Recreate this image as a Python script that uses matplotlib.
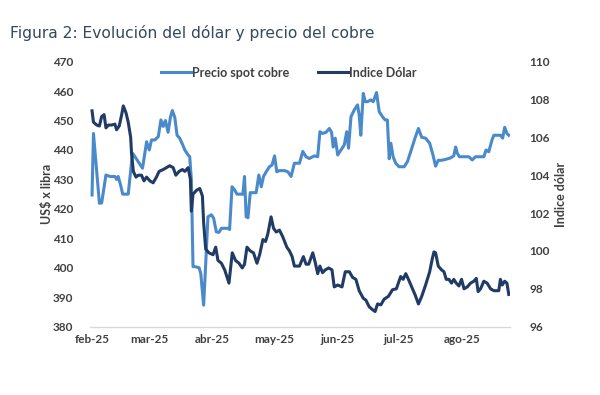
import numpy as np
import pandas as pd
import matplotlib
matplotlib.use("Agg")
import matplotlib.pyplot as plt

# ---------------- data (days since 2025-02-01, values) ----------------
copper_day = [0, 0.7, 3.6, 4.7, 6.8, 8.8, 11.2, 12.0, 12.8, 14.0, 15.0, 16.1, 17.7, 19.8,
              21.0, 23.1, 24.7, 26.7, 28.0, 29.1, 30.7, 32.4, 33.7, 34.8, 35.9, 37.2,
              38.4, 39.3, 40.5, 41.6, 42.9, 44.2, 45.4, 47.0, 47.8, 48.6, 49.4, 50.2,
              52.4, 53.2, 54.6, 55.9, 56.7, 58.4, 59.5, 60.8, 62.1, 63.3, 66.5, 67.3,
              68.5, 69.8, 70.9, 72.2, 73.8, 74.6, 75.4, 76.3, 77.4, 78.7, 80.3, 81.6,
              82.8, 83.9, 85.2, 86.8, 88.1, 89.3, 90.4, 91.7, 94.1, 95.8, 97.4, 99.0,
              100.7, 101.5, 103.1, 104.7, 106.3, 108.8, 110.4, 111.5, 112.8, 114.5,
              116.1, 117.2, 118.0, 119.0, 120.2, 121.8, 123.4, 124.6, 125.5, 126.7,
              128.3, 129.9, 130.7, 131.5, 132.7, 133.7, 134.8, 136.4, 137.6, 139.2,
              140.5, 142.1, 143.4, 144.5, 145.4, 146.2, 147.3, 148.6, 150.2, 152.7,
              154.3, 155.9, 158.0, 159.7, 161.3, 163.2, 165.2, 166.8, 168.1, 169.4,
              171.0, 173.0, 175.4, 177.0, 177.9, 178.7, 179.8, 182.0, 184.4, 186.0,
              187.6, 190.1, 191.7, 192.8, 194.1, 195.7, 196.6, 198.2, 199.8, 200.9,
              201.9, 203.0, 203.9]
copper_val = [424.7, 445.6, 421.9, 422.0, 431.5, 431.0, 431.0, 430.0, 431.0, 428.0, 425.0,
              425.0, 425.0, 438.9, 437.7, 435.5, 433.8, 442.8, 440.0, 443.4, 443.4, 444.5,
              450.2, 448.0, 450.0, 446.0, 451.3, 453.4, 451.0, 445.0, 444.0, 442.0, 440.0,
              438.3, 437.7, 429.8, 400.4, 400.4, 400.0, 398.0, 387.3, 405.4, 417.3, 418.0,
              416.8, 412.2, 412.0, 413.4, 413.4, 413.0, 427.5, 426.4, 425.0, 425.0, 425.0,
              431.0, 417.3, 417.0, 425.5, 425.5, 425.5, 431.5, 427.5, 431.0, 432.6, 434.3,
              434.9, 438.0, 432.6, 433.0, 433.0, 432.6, 431.0, 435.5, 435.5, 435.5, 439.5,
              437.7, 437.1, 438.0, 437.7, 446.2, 445.6, 446.0, 447.3, 446.0, 441.0, 444.0,
              438.3, 440.0, 441.7, 446.2, 440.6, 451.3, 453.6, 455.3, 451.9, 445.0, 459.2,
              456.4, 456.4, 457.0, 456.4, 459.5, 453.0, 451.3, 450.2, 450.2, 437.0, 442.3,
              437.7, 435.5, 434.3, 434.3, 436.0, 439.4, 444.0, 447.3, 444.3, 444.0, 442.3,
              438.3, 434.5, 436.5, 436.5, 436.8, 437.3, 438.0, 441.0, 438.9, 437.7, 437.7,
              437.7, 436.6, 437.7, 437.7, 437.7, 440.0, 439.4, 443.4, 445.0, 445.0, 445.0,
              444.0, 447.7, 445.6, 445.0]

dollar_day = [0, 0.7, 2.3, 3.6, 4.7, 5.9, 6.8, 8.0, 9.6, 11.2, 12.0, 13.3, 14.5, 15.3,
              16.6, 17.7, 18.9, 19.3, 20.2, 21.5, 22.6, 24.2, 25.4, 26.7, 28.3, 29.9,
              31.5, 32.8, 34.8, 36.4, 38.0, 39.7, 41.0, 42.6, 44.2, 45.4, 47.0, 48.1,
              48.6, 49.4, 51.1, 52.7, 54.0, 54.6, 55.6, 57.2, 59.2, 60.5, 61.6, 63.3,
              64.9, 67.0, 68.6, 70.2, 71.9, 73.5, 74.6, 75.8, 77.4, 79.0, 80.7, 82.0,
              83.6, 84.9, 86.0, 87.6, 88.8, 90.1, 91.7, 93.3, 95.3, 96.6, 97.9, 99.0,
              101.5, 103.4, 104.7, 106.0, 108.0, 109.3, 110.4, 111.5, 112.8, 114.1,
              115.8, 117.4, 118.5, 120.2, 122.3, 123.9, 125.9, 127.5, 129.1, 130.7,
              132.7, 134.0, 135.6, 137.2, 138.5, 139.7, 141.3, 142.9, 145.0, 147.0,
              148.9, 150.2, 151.0, 152.2, 153.5, 154.8, 156.4, 158.0, 159.7, 161.3,
              163.2, 165.2, 166.5, 167.3, 168.1, 169.4, 171.0, 172.2, 173.3, 174.6,
              175.9, 177.0, 178.2, 179.5, 180.8, 182.0, 183.6, 185.2, 186.8, 188.0,
              188.9, 190.1, 191.7, 193.3, 195.0, 196.6, 199.0, 199.8, 200.7, 201.9,
              203.0, 203.9]
dollar_val = [107.4, 106.8, 106.65, 106.6, 107.1, 107.2, 106.5, 106.65, 106.65, 106.7,
              106.4, 106.6, 107.2, 107.66, 107.3, 106.8, 106.0, 105.2, 104.2, 103.9,
              104.0, 104.0, 103.7, 103.9, 103.7, 103.6, 103.9, 104.2, 104.3, 104.4,
              104.5, 104.4, 104.0, 104.2, 104.3, 104.2, 104.4, 103.8, 102.1, 103.0,
              103.2, 103.3, 102.9, 101.5, 100.1, 99.9, 99.8, 100.2, 99.5, 99.35, 99.0,
              98.3, 99.9, 99.5, 99.35, 99.1, 99.3, 100.2, 100.0, 99.9, 99.35, 99.8,
              100.6, 100.5, 100.9, 101.8, 101.2, 101.0, 101.1, 100.75, 100.2, 100.0,
              99.7, 99.2, 99.2, 99.7, 99.3, 99.3, 99.9, 99.35, 98.8, 99.2, 98.85, 99.0,
              99.1, 99.0, 98.1, 98.2, 98.1, 98.9, 98.9, 98.6, 98.5, 97.9, 97.5, 97.4,
              97.05, 96.9, 96.8, 97.2, 97.15, 97.45, 97.6, 97.95, 98.0, 98.4, 98.65,
              98.5, 98.8, 98.5, 98.1, 97.7, 97.2, 97.6, 98.2, 98.9, 99.6, 99.95, 99.9,
              99.2, 99.0, 98.9, 98.5, 98.5, 98.3, 98.5, 98.3, 98.15, 98.5, 98.0, 98.1,
              98.3, 98.4, 98.55, 97.85, 98.0, 98.4, 98.3, 98.0, 97.9, 97.9, 98.5, 98.2,
              98.4, 98.3, 97.7]

month_ticks = ["2025-02-01", "2025-03-01", "2025-04-01", "2025-05-01",
               "2025-06-01", "2025-07-01", "2025-08-01"]
month_labels = ["feb-25", "mar-25", "abr-25", "may-25", "jun-25", "jul-25", "ago-25"]

title = "Figura 2: Evolución del dólar y precio del cobre"
left_label = "US$ x libra"
right_label = "Indice dólar"
copper_name = "Precio spot cobre"
dollar_name = "Indice Dólar"

# ---------------- plotting ----------------
base = pd.Timestamp("2025-02-01")
cx = base + pd.to_timedelta(np.array(copper_day), unit="D")
dx = base + pd.to_timedelta(np.array(dollar_day), unit="D")

LIGHT = "#4A8ACB"
DARK = "#1F3B66"
TICK = "#404040"

fig = plt.figure(figsize=(6.0, 3.95), dpi=100)
ax = fig.add_axes([0.15, 0.173, 0.70, 0.671])
ax2 = ax.twinx()

l1, = ax.plot(cx, copper_val, color=LIGHT, lw=2.2, label=copper_name, zorder=3)
l2, = ax2.plot(dx, dollar_val, color=DARK, lw=2.2, label=dollar_name, zorder=3)

ax.set_ylim(380, 470)
ax.set_yticks(np.arange(380, 471, 10))
ax2.set_ylim(96, 110)
ax2.set_yticks(np.arange(96, 111, 2))
ax.set_xlim(base + pd.Timedelta(days=-1), base + pd.Timedelta(days=204.5))
ax.set_xticks(pd.to_datetime(month_ticks))
ax.set_xticklabels(month_labels)

for a in (ax, ax2):
    for s in a.spines.values():
        s.set_visible(False)
    a.tick_params(length=0, colors=TICK)
ax.spines["bottom"].set_visible(True)
ax.spines["bottom"].set_color("#D9D9D9")
ax.spines["bottom"].set_linewidth(1.0)
ax.tick_params(axis="y", pad=12)
ax.tick_params(axis="x", pad=5)
ax2.tick_params(axis="y", pad=14)

for lab in ax.get_xticklabels() + ax.get_yticklabels() + ax2.get_yticklabels():
    lab.set_fontfamily("Lato")
    lab.set_fontweight("bold")
    lab.set_fontsize(8.5)
    lab.set_color(TICK)

ax.set_ylabel(left_label, fontdict=dict(family="Lato", weight="bold", size=9), color=TICK)
ax.yaxis.set_label_coords(-0.088, 0.5)
ax2.set_ylabel(right_label, fontdict=dict(family="Lato", weight="bold", size=9), color=TICK,
               rotation=90)
ax2.yaxis.set_label_coords(1.108, 0.5)

leg = ax.legend(handles=[l1, l2], loc="center left", bbox_to_anchor=(0.168, 0.958), ncol=2,
                frameon=False, handlelength=2.4, handletextpad=0.1, columnspacing=2.3,
                borderpad=0, borderaxespad=0,
                prop=dict(family="Lato", weight="bold", size=9))
for t in leg.get_texts():
    t.set_color(TICK)

fig.text(0.017, 0.905, title, fontsize=11.2, color="#34495E", family="DejaVu Sans",
         ha="left", va="baseline")

fig.savefig("out.png", dpi=100, facecolor="white")
